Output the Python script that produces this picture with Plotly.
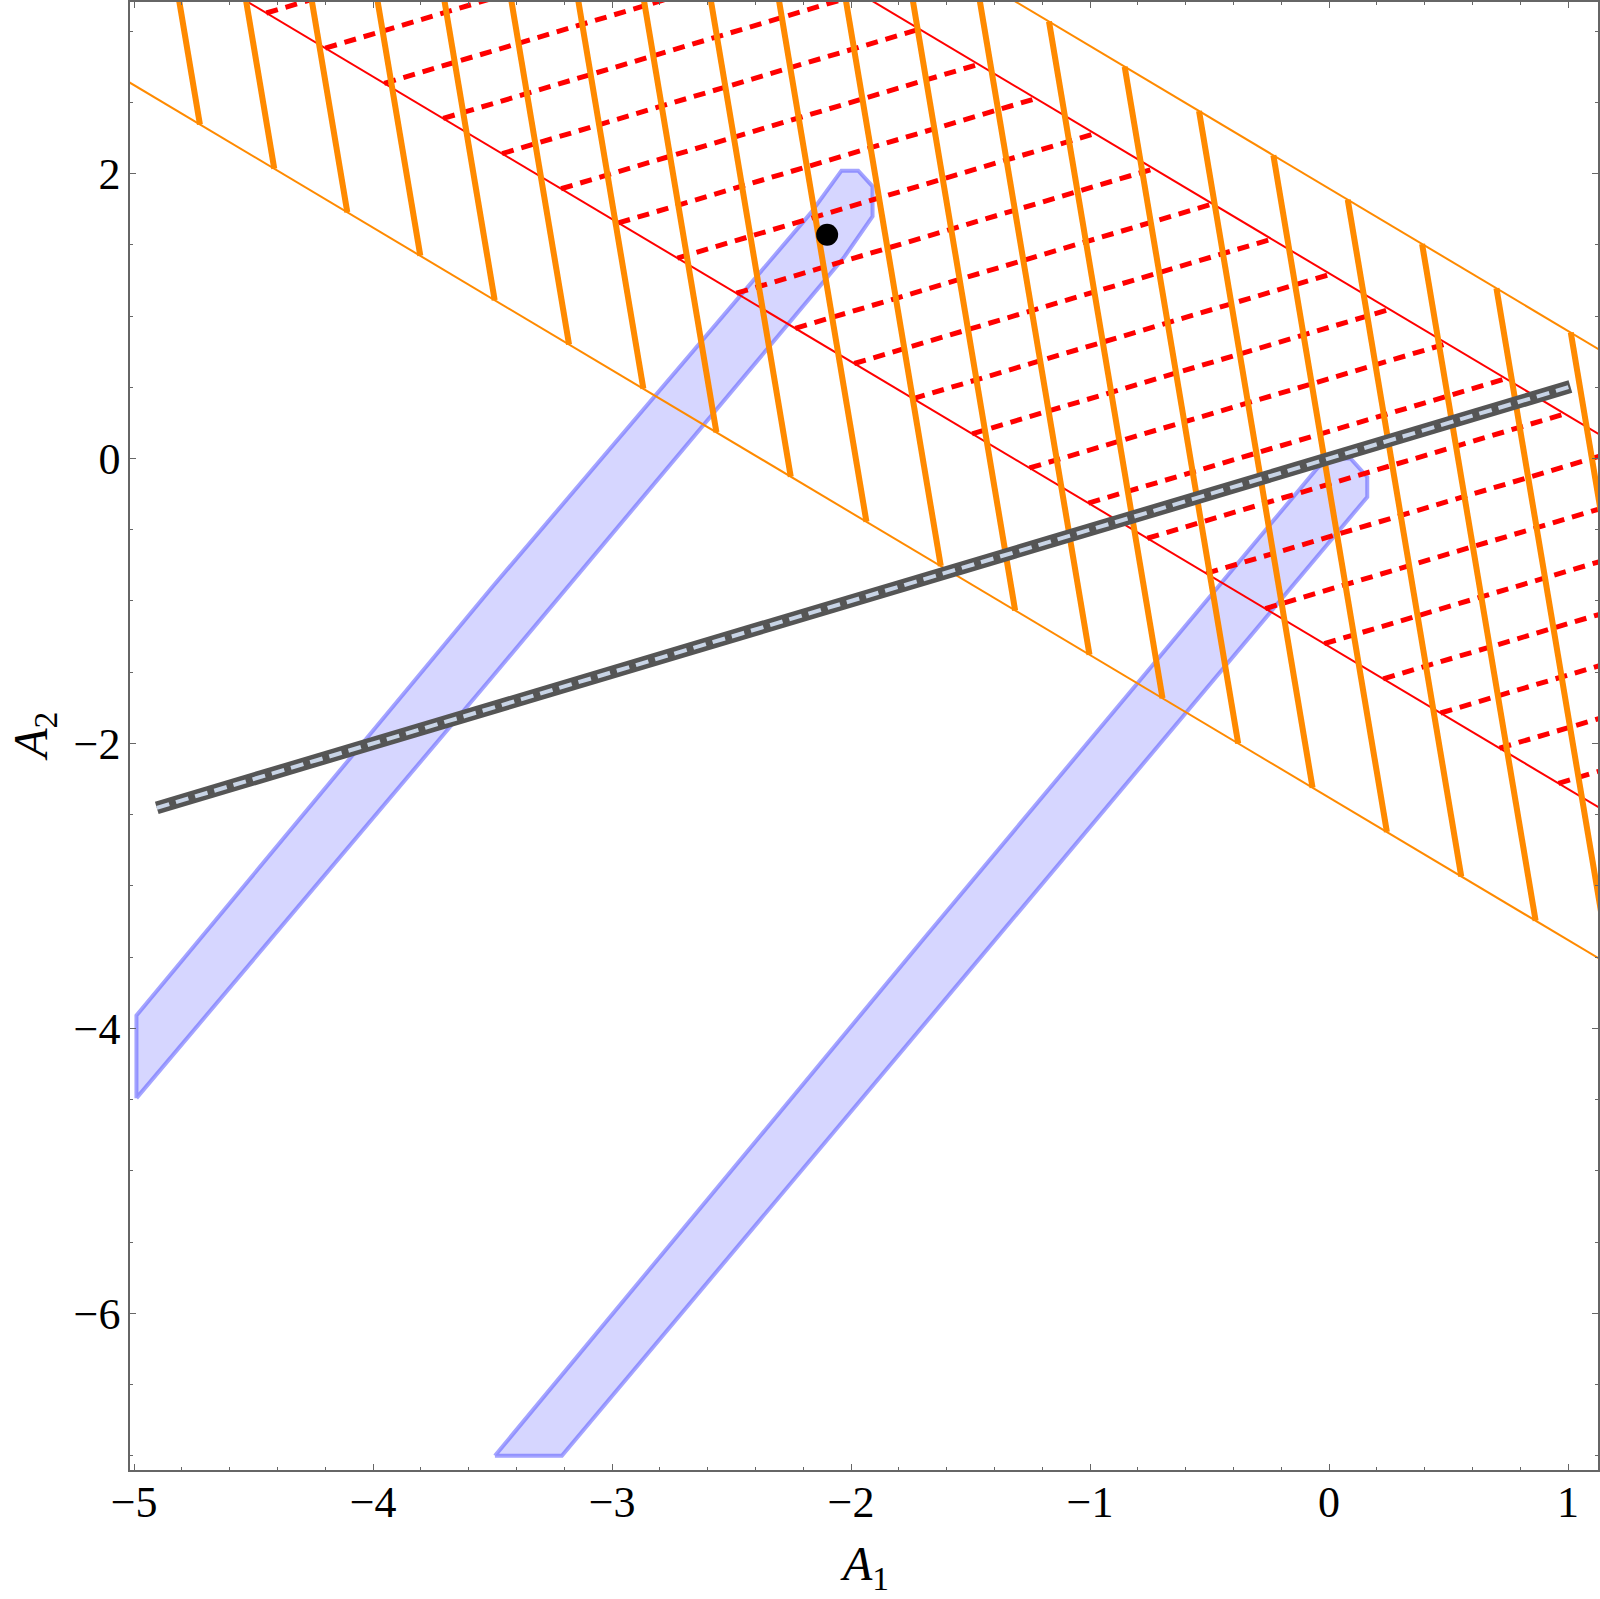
import plotly.graph_objects as go

# ---------------- data ----------------
X_RANGE = [-5.017, 1.1255]
Y_RANGE = [-7.1, 3.204]
X_TICKS = [-5, -4, -3, -2, -1, 0, 1]
Y_TICKS = [-6, -4, -2, 0, 2]

# band boundaries are lines A1 + A2 = const
ORANGE_BOUNDS = [-2.38, 1.895]
RED_BOUNDS = [-1.32, 1.30]

# orange mesh lines: A1 + 0.1*A2 = level
ORANGE_TILT = 0.1
ORANGE_LEVELS = [-4.49, -4.21, -3.935, -3.66, -3.38, -3.10, -2.82, -2.545,
                 -2.265, -1.98, -1.70, -1.42, -1.14, -0.865, -0.58, -0.30,
                 -0.02, 0.26, 0.54, 0.82, 1.10]

# red mesh lines: A2 - 0.5*A1 = level
RED_SLOPE = 0.5
RED_LEVELS = [5.35, 4.98, 4.61, 4.24, 3.87, 3.50, 3.14, 2.77, 2.40, 2.03,
              1.66, 1.29, 0.92, 0.56, 0.19, -0.18, -0.55, -0.92, -1.29,
              -1.66, -2.02, -2.39, -2.76]

# gray line A2 = A1/2
GRAY_A1 = [-4.905, 1.01]
GRAY_A2 = [-2.4525, 0.505]

# best-fit point
POINT_A1 = [-2.10]
POINT_A2 = [1.57]

# allowed (blue) regions, outlines
BAND1_A1 = [-4.99, -4.99, -3.50, -2.17, -2.04, -1.97, -1.91, -1.91, -2.03, -3.50, -4.99]
BAND1_A2 = [-4.49, -3.91, -0.90, 1.72, 2.02, 2.02, 1.91, 1.70, 1.41, -1.53, -4.49]
BAND2_A1 = [-3.49, -1.70, -0.05, 0.00, 0.09, 0.16, 0.16, -1.70, -3.21, -3.49]
BAND2_A2 = [-7.00, -3.38, -0.07, 0.00, 0.00, -0.13, -0.27, -3.98, -7.00, -7.00]

ORANGE = "#ff8a00"
RED = "#ff0000"
FRAME = "#666666"
FONT = "Liberation Serif, Times New Roman, serif"

# ---------------- build figure ----------------
fig = go.Figure()

for bx, by in [(BAND1_A1, BAND1_A2), (BAND2_A1, BAND2_A2)]:
    fig.add_trace(go.Scatter(
        x=bx, y=by, mode="lines", fill="toself",
        fillcolor="rgba(128,128,255,0.32)",
        line=dict(color="rgba(90,90,255,0.55)", width=4),
        hoverinfo="skip", showlegend=False))


def sum_line(s):
    xs = [X_RANGE[0] - 1, X_RANGE[1] + 1]
    return xs, [s - v for v in xs]


# red band boundaries
for s in RED_BOUNDS:
    xs, ys = sum_line(s)
    fig.add_trace(go.Scatter(x=xs, y=ys, mode="lines",
                             line=dict(color=RED, width=2),
                             hoverinfo="skip", showlegend=False))

# red dashed mesh
rx, ry = [], []
for m in RED_LEVELS:
    for s in RED_BOUNDS:
        a1 = (s - m) / (1 + RED_SLOPE)
        rx.append(a1)
        ry.append(m + RED_SLOPE * a1)
    rx.append(None)
    ry.append(None)
fig.add_trace(go.Scatter(x=rx, y=ry, mode="lines",
                         line=dict(color=RED, width=5, dash="12px,8px"),
                         hoverinfo="skip", showlegend=False))

# orange band boundaries
for s in ORANGE_BOUNDS:
    xs, ys = sum_line(s)
    fig.add_trace(go.Scatter(x=xs, y=ys, mode="lines",
                             line=dict(color=ORANGE, width=2),
                             hoverinfo="skip", showlegend=False))

# orange mesh
ox, oy = [], []
for k in ORANGE_LEVELS:
    for s in ORANGE_BOUNDS:
        a2 = (s - k) / (1 - ORANGE_TILT)
        ox.append(k - ORANGE_TILT * a2)
        oy.append(a2)
    ox.append(None)
    oy.append(None)
fig.add_trace(go.Scatter(x=ox, y=oy, mode="lines",
                         line=dict(color=ORANGE, width=6),
                         hoverinfo="skip", showlegend=False))

# gray line
fig.add_trace(go.Scatter(x=GRAY_A1, y=GRAY_A2, mode="lines",
                         line=dict(color="#555555", width=13),
                         hoverinfo="skip", showlegend=False))
fig.add_trace(go.Scatter(x=GRAY_A1, y=GRAY_A2, mode="lines",
                         line=dict(color="#c8d4e6", width=4, dash="13px,7px"),
                         hoverinfo="skip", showlegend=False))

# point
fig.add_trace(go.Scatter(x=POINT_A1, y=POINT_A2, mode="markers",
                         marker=dict(color="black", size=22),
                         hoverinfo="skip", showlegend=False))

axis_common = dict(
    showgrid=False, zeroline=False, showline=True, linecolor=FRAME,
    linewidth=1.5, mirror="allticks", ticks="inside", ticklen=6,
    tickwidth=1.2, tickcolor=FRAME, automargin=False,
    tickfont=dict(family=FONT, size=44, color="black"),
)

fig.update_xaxes(range=X_RANGE, tickvals=X_TICKS, **axis_common,
                 minor=dict(dtick=0.2, tick0=0, ticklen=3.5, tickcolor=FRAME,
                            ticks="inside", showgrid=False))
fig.update_yaxes(range=Y_RANGE, tickvals=Y_TICKS, **axis_common,
                 minor=dict(dtick=0.5, tick0=0, ticklen=3.5, tickcolor=FRAME,
                            ticks="inside", showgrid=False))
try:
    fig.update_xaxes(ticklabelstandoff=-8)
except ValueError:
    fig.update_xaxes(ticklabelstandoff=0)
try:
    fig.update_yaxes(ticklabelstandoff=-1)
except ValueError:
    fig.update_yaxes(ticklabelstandoff=0)

fig.update_layout(
    width=1600, height=1599,
    margin=dict(l=130, r=2, t=2, b=129, autoexpand=False),
    plot_bgcolor="white", paper_bgcolor="white",
    showlegend=False,
    annotations=[
        dict(text="<i>A</i><sub>1</sub>", xref="paper", yref="paper",
             x=0.5, y=-0.066, xanchor="center", yanchor="middle",
             showarrow=False, font=dict(family=FONT, size=48, color="black")),
        dict(text="<i>A</i><sub>2</sub>", xref="paper", yref="paper",
             x=-0.0655, y=0.5, xanchor="center", yanchor="middle", textangle=-90,
             showarrow=False, font=dict(family=FONT, size=48, color="black")),
    ],
)

fig.write_html(
    "out.html",
    config={"displayModeBar": False},
    post_script="document.body.style.margin='0';document.body.style.overflow='hidden';",
)
